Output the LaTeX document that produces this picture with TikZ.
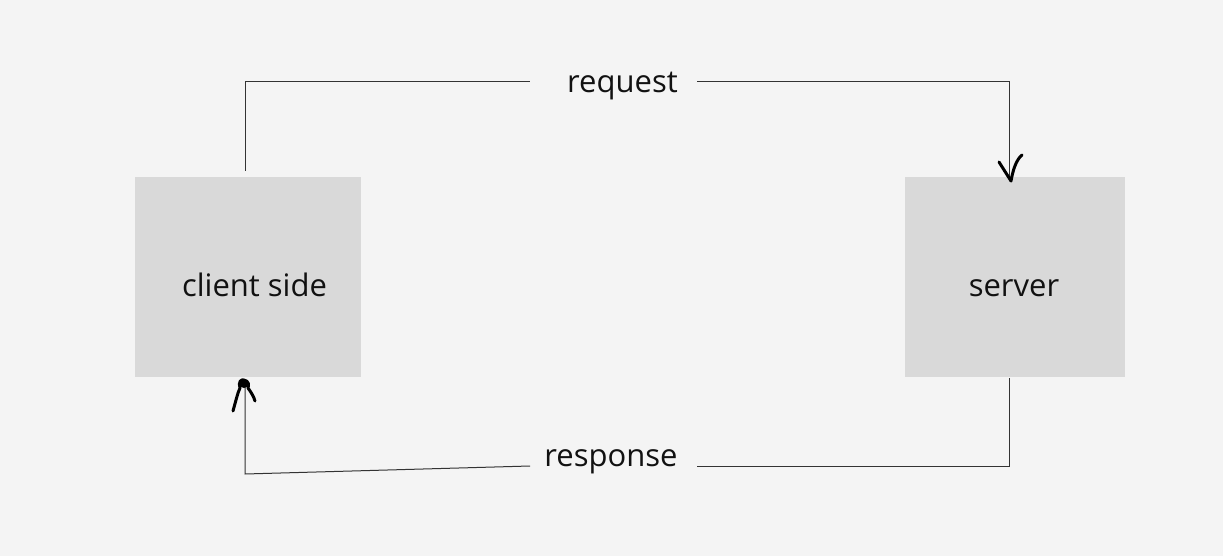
\documentclass[tikz,border=0pt]{standalone}
\usepackage{fontspec}
\setmainfont{Open Sans}
\definecolor{bg}{HTML}{F4F4F4}
\definecolor{boxc}{HTML}{D9D9D9}
\definecolor{linec}{HTML}{333333}
\definecolor{txt}{HTML}{111111}
\begin{document}
\begin{tikzpicture}[x=1pt,y=-1pt,
  box/.style={fill=boxc,draw=none,inner sep=0pt,anchor=north west},
  lbl/.style={inner sep=0pt,anchor=base,text=txt,font=\fontsize{31}{36}\selectfont},
  conn/.style={draw=linec,line width=1pt},
  hand/.style={draw=black,line width=3pt,line cap=round,line join=round}]
\fill[bg] (0,0) rectangle (1223,556);
\useasboundingbox (0,0) rectangle (1223,556);
\node[box,minimum width=226pt,minimum height=200pt] (client) at (135,177) {};
\node[box,minimum width=220pt,minimum height=200pt] (server) at (905,177) {};
\node[lbl] (clientlbl) at (254.5,296) {client side};
\node[lbl] (serverlbl) at (1014,296) {server};
\node[lbl] (req) at (622.5,93) {request};
\node[lbl] (resp) at (611,466) {response};
\coordinate (c1) at (245,171);
\coordinate (r1) at (530,82);
\coordinate (r2) at (697,82);
\coordinate (s1) at (1009,180);
\coordinate (s2) at (1009,378);
\coordinate (p1) at (697,466);
\coordinate (p2) at (530,466);
\coordinate (q1) at (245,474);
\coordinate (c2) at (245,381);
\draw[conn] (c1) |- (r1);
\draw[conn] (r2) -| (s1);
\draw[conn] (s2) |- (p1);
\draw[conn] (p2) -- (q1) -- (c2);
% hand-drawn arrowheads
\draw[hand] (999,162) -- (1011,181) .. controls (1013,170) and (1016,160) .. (1022,155);
\draw[hand] (233,411) .. controls (236,400) and (238,392) .. (240,388) .. controls (238,382) and (241,379) .. (244,380) .. controls (249,381) and (249,385) .. (248,388) .. controls (251,392) and (254,397) .. (255,401);
\fill[black] (244,384) ellipse (4.5pt and 4pt);
\end{tikzpicture}
\end{document}
